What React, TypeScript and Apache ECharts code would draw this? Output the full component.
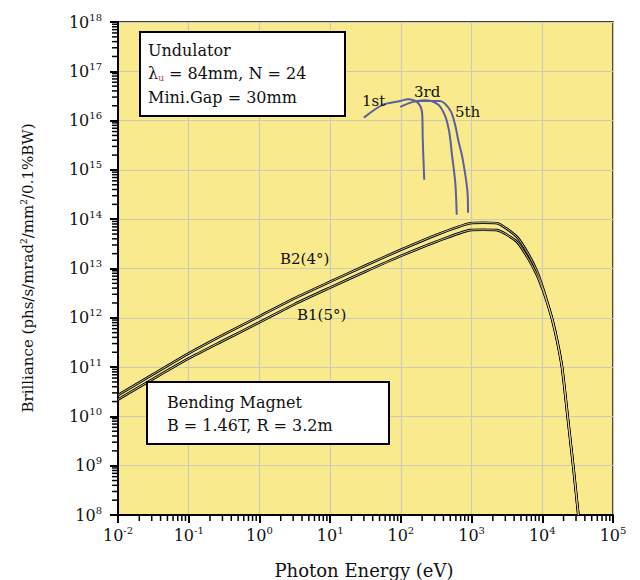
import React, { useEffect, useRef } from "react";
import * as echarts from "echarts";

// ---- Data ----
// Bending magnet curves: photon energy (eV) and brilliance
const BM_ENERGY = [0.01, 0.0316, 0.1, 0.316, 1, 3.16, 10, 31.6, 100, 316, 955, 1450, 2290, 4365, 6310, 8511, 10233, 11749, 13804, 16218, 19055, 22909, 27542, 32359];
const B2_VALUES = [2.7e10, 7.2e10, 1.9e11, 4.6e11, 1.07e12, 2.5e12, 5.4e12, 1.15e13, 2.4e13, 4.8e13, 8.3e13, 8.5e13, 8.3e13, 4.4e13, 2.0e13, 8.5e12, 4.0e12, 2.1e12, 9.5e11, 3.5e11, 1.0e11, 9.8e9, 9.3e8, 1.0e8];
const B1_VALUES = [2.2e10, 5.8e10, 1.5e11, 3.5e11, 8.1e11, 1.9e12, 4.1e12, 8.7e12, 1.8e13, 3.5e13, 6.0e13, 6.1e13, 6.0e13, 3.5e13, 1.6e13, 7.1e12, 3.6e12, 2.0e12, 9.2e11, 3.4e11, 9.6e10, 9.4e9, 9.0e8, 1.0e8];

// Undulator harmonics
const U1_ENERGY = [30, 56, 98, 126, 174, 200, 204, 214];
const U1_VALUES = [1.15e16, 2.1e16, 2.5e16, 2.7e16, 2.3e16, 1.4e16, 4.1e15, 6.3e14];
const U3_ENERGY = [98, 148, 219, 339, 427, 479, 501, 525, 589, 617];
const U3_VALUES = [1.9e16, 2.4e16, 2.6e16, 2.1e16, 1.2e16, 6.3e15, 4.1e15, 2.2e15, 5.4e14, 1.23e14];
const U5_ENERGY = [174, 355, 501, 589, 646, 741, 871, 891];
const U5_VALUES = [2.5e16, 2.5e16, 1.6e16, 7.9e15, 4.1e15, 1.8e15, 3.9e14, 1.35e14];

// Axis ranges and minor tick multipliers
const X_MIN = 0.01;
const X_MAX = 1e5;
const Y_MIN = 1e8;
const Y_MAX = 1e18;
const MINOR_MULTIPLIERS = [2, 3, 4, 5, 6, 7, 8, 9];

const FONT = "DejaVu Serif";
const YELLOW = "#FAEA8E";
const GRIDLINE = "#cfcab3";
const UND_COLOR = "#5a5f9e";

const pairs = (xs: number[], ys: number[]) => xs.map((x, i) => [x, ys[i]]);

const powLabel = (v: number) => {
  const p = Math.round(Math.log10(v));
  return `{b|10}{s|${p}}`;
};

const minorValues = (lo: number, hi: number) => {
  const out: number[] = [];
  for (let k = Math.round(Math.log10(lo)); k < Math.round(Math.log10(hi)); k++) {
    MINOR_MULTIPLIERS.forEach((m) => out.push(m * Math.pow(10, k)));
  }
  return out;
};

export default function App() {
  const ref = useRef<HTMLDivElement>(null);
  useEffect(() => {
    if (!ref.current) return;
    const chart = echarts.init(ref.current, null, { renderer: "svg" });
    const labelRich = {
      b: { fontSize: 16, fontFamily: FONT, color: "#111" },
      s: { fontSize: 10, fontFamily: FONT, color: "#111", padding: [0, 0, 10, 0] },
    };
    const bmSeries = (name: string, vals: number[]) => [
      {
        name,
        type: "line",
        data: pairs(BM_ENERGY, vals),
        showSymbol: false,
        smooth: 0.2,
        lineStyle: { color: "#000", width: 2.6 },
        z: 3,
      },
      {
        name: name + "-inner",
        type: "line",
        data: pairs(BM_ENERGY, vals),
        showSymbol: false,
        smooth: 0.2,
        lineStyle: { color: "#f3e7a8", width: 0.8 },
        z: 4,
      },
    ];
    const undSeries = (name: string, xs: number[], ys: number[]) => ({
      name,
      type: "line",
      data: pairs(xs, ys),
      showSymbol: false,
      smooth: 0.3,
      lineStyle: { color: UND_COLOR, width: 2 },
      z: 5,
    });
    const txt = (text: string, x: number, y: number, size = 16, extra: any = {}) => ({
      type: "text",
      x,
      y,
      z: 20,
      style: { text, fontFamily: FONT, fontSize: size, fill: "#111", verticalAlign: "middle", ...extra },
    });
    const axisCommon = {
      type: "log",
      logBase: 10,
      interval: 1,
      axisLine: { show: true, lineStyle: { color: "#000", width: 2 } },
      axisTick: { show: true, inside: false, length: 8, lineStyle: { color: "#000", width: 2 } },
      splitLine: { show: true, lineStyle: { color: GRIDLINE, width: 1.2 } },
    };

    const baseGraphics: any[] = [
      {
        type: "rect",
        z: 15,
        shape: { x: 140, y: 32, width: 205, height: 84 },
        style: { fill: "#fff", stroke: "#000", lineWidth: 2 },
      },
      txt("Undulator", 148, 50),
      {
        type: "text",
        x: 148,
        y: 73,
        z: 20,
        style: {
          text: "{t|λ}{sub|u}{t| = 84mm, N = 24}",
          verticalAlign: "middle",
          rich: {
            t: { fontFamily: FONT, fontSize: 16, fill: "#111" },
            sub: { fontFamily: FONT, fontSize: 9, fill: "#b04040", padding: [9, 0, 0, 0] },
          },
        },
      },
      txt("Mini.Gap = 30mm", 148, 97),
      {
        type: "rect",
        z: 15,
        shape: { x: 147, y: 382, width: 242, height: 62 },
        style: { fill: "#fff", stroke: "#000", lineWidth: 2 },
      },
      txt("Bending Magnet", 167, 402),
      txt("B = 1.46T, R = 3.2m", 167, 425),
      txt("1st", 362, 101, 15),
      txt("3rd", 414, 92, 15),
      txt("5th", 455, 112, 15),
      txt("B2(4°)", 280, 259, 15),
      txt("B1(5°)", 297, 315, 15),
      {
        type: "text",
        x: 28,
        y: 268,
        rotation: Math.PI / 2,
        z: 20,
        style: {
          text: "{t|Brilliance (phs/s/mrad}{s|2}{t|/mm}{s|2}{t|/0.1%BW)}",
          align: "center",
          verticalAlign: "middle",
          rich: {
            t: { fontFamily: FONT, fontSize: 15, fill: "#111" },
            s: { fontFamily: FONT, fontSize: 9, fill: "#111", padding: [0, 0, 9, 0] },
          },
        },
      },
      {
        type: "text",
        x: 364,
        y: 570,
        z: 20,
        style: {
          text: "Photon Energy (eV)",
          fontFamily: FONT,
          fontSize: 18,
          fill: "#111",
          align: "center",
          verticalAlign: "middle",
        },
      },
    ];

    chart.setOption({
      animation: false,
      backgroundColor: "#fff",
      grid: {
        left: 118,
        top: 22,
        width: 495,
        height: 493,
        show: true,
        backgroundColor: YELLOW,
        borderColor: "#000",
        borderWidth: 1.5,
        outerBoundsMode: "none",
      },
      xAxis: {
        ...axisCommon,
        min: X_MIN,
        max: X_MAX,
        axisLabel: { margin: 10, formatter: powLabel, rich: labelRich, showMinLabel: true, showMaxLabel: true },
      },
      yAxis: {
        ...axisCommon,
        min: Y_MIN,
        max: Y_MAX,
        axisLabel: { margin: 16, formatter: powLabel, rich: labelRich, showMinLabel: true, showMaxLabel: true },
      },
      series: [
        ...bmSeries("B2(4°)", B2_VALUES),
        ...bmSeries("B1(5°)", B1_VALUES),
        undSeries("1st", U1_ENERGY, U1_VALUES),
        undSeries("3rd", U3_ENERGY, U3_VALUES),
        undSeries("5th", U5_ENERGY, U5_VALUES),
      ],
      graphic: baseGraphics,
    });

    // Minor ticks (2..9 per decade), positioned through the axes' own scales
    const tickLines: any[] = [];
    minorValues(X_MIN, X_MAX).forEach((v) => {
      const p = chart.convertToPixel({ gridIndex: 0 }, [v, Y_MIN]) as number[];
      if (p && isFinite(p[0]) && isFinite(p[1])) {
        tickLines.push({
          type: "line",
          z: 12,
          shape: { x1: p[0], y1: p[1], x2: p[0], y2: p[1] + 6 },
          style: { stroke: "#000", lineWidth: 1.5 },
        });
      }
    });
    minorValues(Y_MIN, Y_MAX).forEach((v) => {
      const p = chart.convertToPixel({ gridIndex: 0 }, [X_MIN, v]) as number[];
      if (p && isFinite(p[0]) && isFinite(p[1])) {
        tickLines.push({
          type: "line",
          z: 12,
          shape: { x1: p[0] - 6, y1: p[1], x2: p[0], y2: p[1] },
          style: { stroke: "#000", lineWidth: 1.5 },
        });
      }
    });
    chart.setOption({ graphic: [...baseGraphics, ...tickLines] });

    return () => chart.dispose();
  }, []);
  return (
    <div
      ref={ref}
      style={{ position: "fixed", left: 0, top: 0, width: 640, height: 580 }}
    />
  );
}
